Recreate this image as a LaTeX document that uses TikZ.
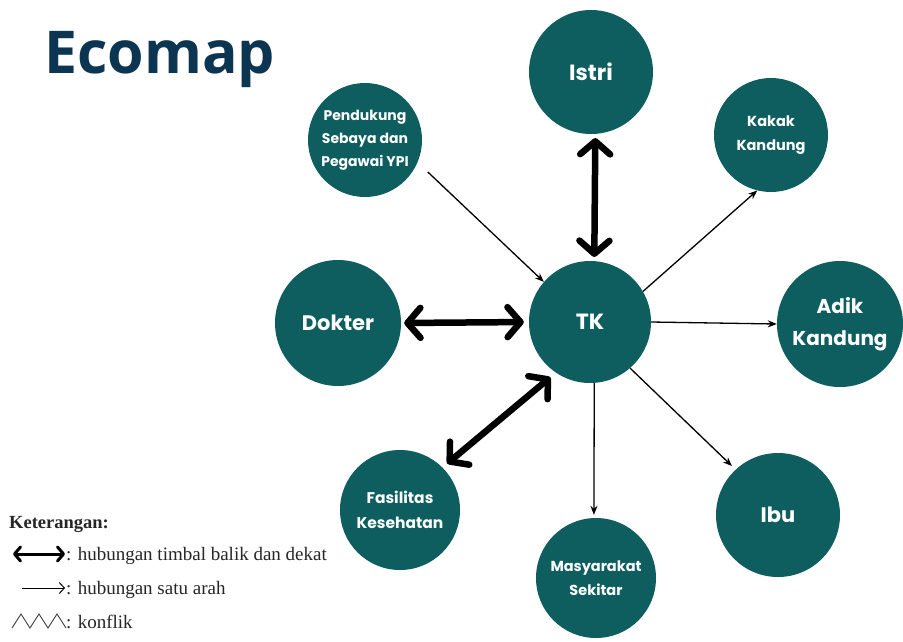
\documentclass[tikz,border=0pt]{standalone}
\usepackage{fontspec}
\setmainfont{Liberation Serif}
\newfontfamily\circfont{Poppins}
\newfontfamily\titlefont{Open Sans}
\usetikzlibrary{arrows.meta,calc}
\definecolor{teal}{HTML}{0E5E5F}
\definecolor{navy}{HTML}{0B3551}
\tikzset{
  bubble/.style={circle, fill=teal, inner sep=0pt, minimum size=#1, text=white, align=center, font=\circfont\bfseries},
  thickarrow/.style={line width=6.5pt, line cap=round, {Straight Barb[round,length=13pt,width=30pt]}-{Straight Barb[round,length=13pt,width=30pt]}},
  thinarrow/.style={line width=1.3pt, -{Stealth[length=9pt,width=7pt]}},
  legthick/.style={line width=3pt, {Straight Barb[round,length=6pt,width=14pt]}-{Straight Barb[round,length=6pt,width=14pt]}},
  legthin/.style={line width=1pt, -{Straight Barb[length=5pt,width=11pt]}},
  legtext/.style={anchor=base west, inner sep=0pt, font=\fontsize{19}{21}\selectfont, text=black!85}
}
\begin{document}
\begin{tikzpicture}[x=1pt,y=-1pt]
\useasboundingbox (0,0) rectangle (903,641);
\fill[white] (0,0) rectangle (903,641);
% title
\node[anchor=base west, inner sep=0pt, text=navy, font=\titlefont\bfseries\fontsize{59}{61}\selectfont] (title) at (44,73) {Ecomap};
% circles
\node[bubble=124pt, font=\circfont\bfseries\fontsize{22}{26}\selectfont] (istri) at (591,72) {Istri};
\node[bubble=114pt, font=\circfont\bfseries\fontsize{14}{23}\selectfont] (pend) at (365,140) {Pendukung\\Sebaya dan\\Pegawai YPI};
\node[bubble=114pt, font=\circfont\bfseries\fontsize{14.5}{24}\selectfont] (kakak) at (771,135) {Kakak\\Kandung};
\node[bubble=126pt, font=\circfont\bfseries\fontsize{21}{26}\selectfont] (dokter) at (338,323) {Dokter};
\node[bubble=122pt, font=\circfont\bfseries\fontsize{22}{26}\selectfont] (tk) at (590,322) {TK};
\node[bubble=126pt, font=\circfont\bfseries\fontsize{20}{32}\selectfont] (adik) at (840,324) {Adik\\Kandung};
\node[bubble=120pt, font=\circfont\bfseries\fontsize{15.5}{25}\selectfont] (fas) at (400,510) {Fasilitas\\Kesehatan};
\node[bubble=120pt, font=\circfont\bfseries\fontsize{14.5}{24}\selectfont] (masy) at (596,578) {Masyarakat\\Sekitar};
\node[bubble=124pt, font=\circfont\bfseries\fontsize{21}{26}\selectfont] (ibu) at (778,515) {Ibu};
% thick two-way arrows
\draw[thickarrow, shorten <=4pt, shorten >=4pt] (istri.-86) -- (tk.86);
\draw[thickarrow, shorten <=3pt, shorten >=5pt] (dokter.east) -- (tk.west);
\draw[thickarrow, shorten <=6pt, shorten >=7pt] (fas.45) -- (tk.236);
% thin one-way arrows
\draw[thinarrow, shorten <=14pt] (pend.-23) -- (tk.139);
\draw[thinarrow] (tk.30) -- (kakak.256);
\draw[thinarrow] (tk.east) -- (adik.west);
\draw[thinarrow, shorten >=5pt] (tk.-49) -- (ibu.133);
\draw[thinarrow, shorten >=3pt] (tk.-86) -- (masy.92);
% legend
\node[anchor=base west, inner sep=0pt, font=\bfseries\fontsize{18.5}{20}\selectfont, text=black!85] (ket) at (9,528) {Keterangan:};
\coordinate (la1) at (13,554);
\coordinate (la2) at (65,554);
\draw[legthick] (la1) -- (la2);
\node[legtext] (t1) at (66,560) {: hubungan timbal balik dan dekat};
\coordinate (lb1) at (22,588);
\coordinate (lb2) at (65,588);
\draw[legthin] (lb1) -- (lb2);
\node[legtext] (t2) at (66,594) {: hubungan satu arah};
\coordinate (lz1) at (12,628);
\coordinate (lz2) at (66,628);
\draw[line width=0.9pt, black!75] (lz1) -- (21,614) -- (30,628) -- (39,614) -- (48,628) -- (57,614) -- (lz2);
\node[legtext] (t3) at (66,628) {: konflik};
\end{tikzpicture}
\end{document}
